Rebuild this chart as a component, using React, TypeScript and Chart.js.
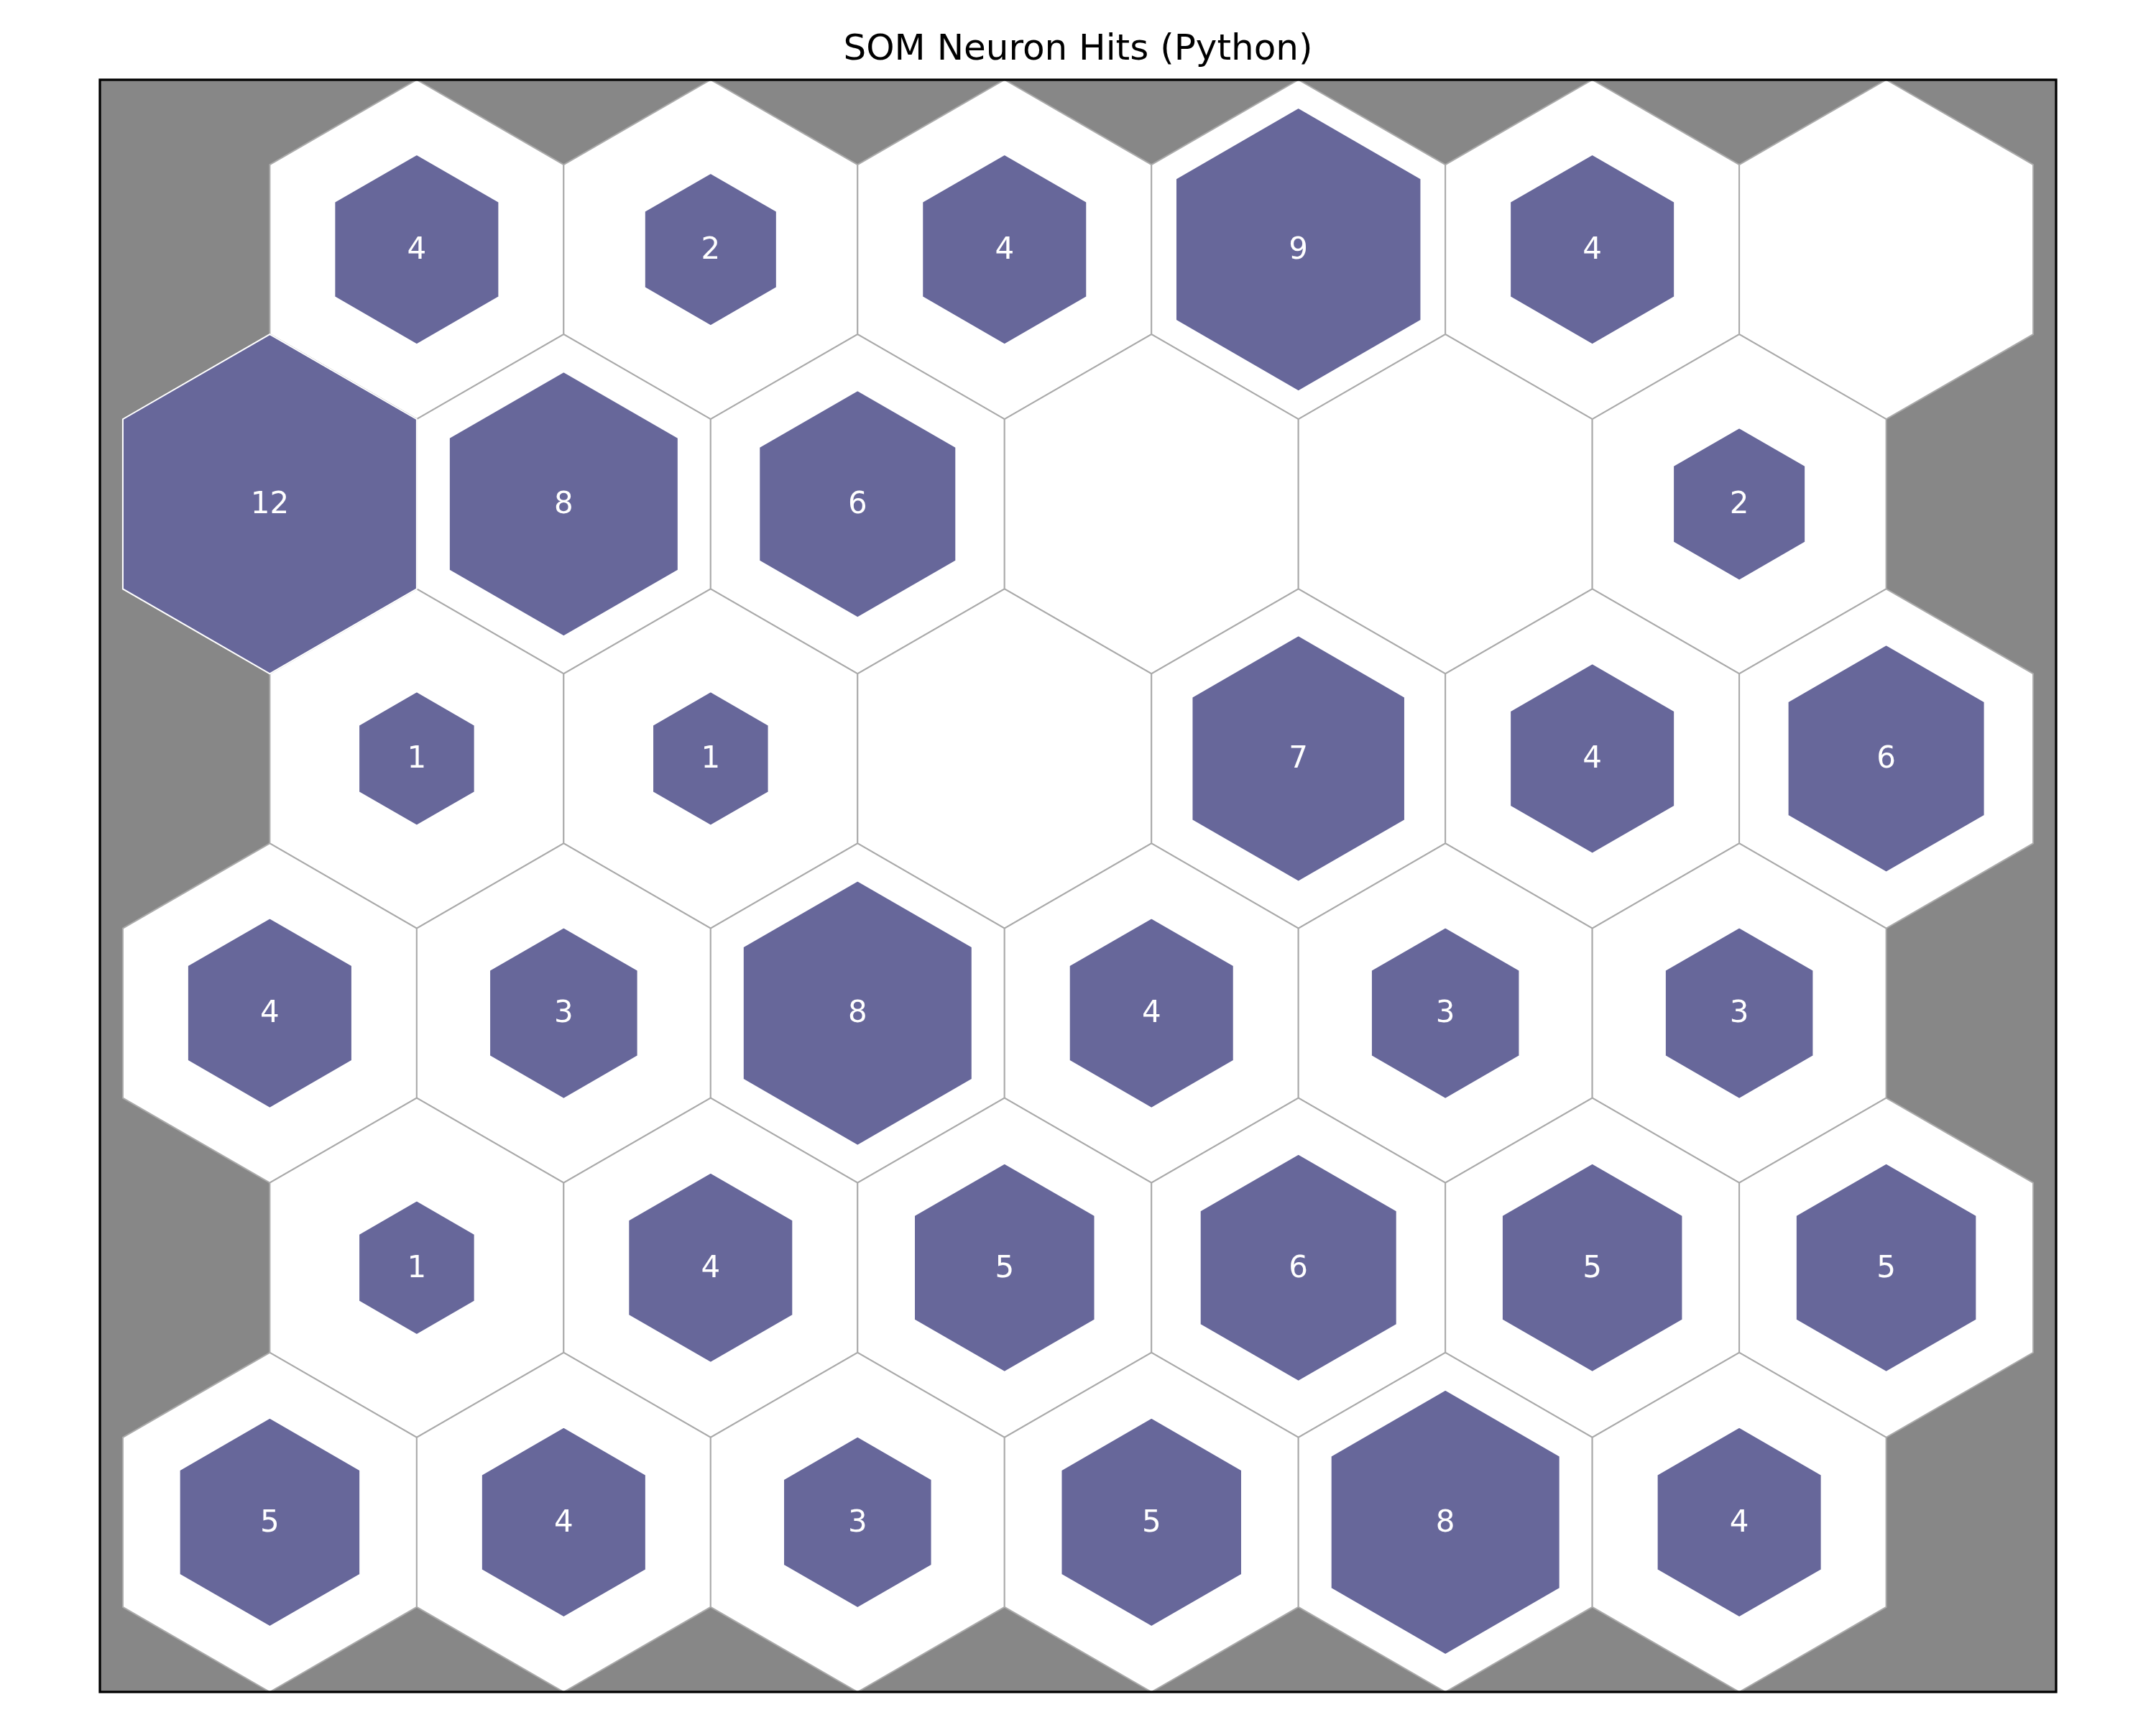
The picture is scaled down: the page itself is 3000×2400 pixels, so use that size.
import { useEffect, useRef } from 'react'
import { Chart, registerables } from 'chart.js'

Chart.register(...registerables)

const chartTitle = 'SOM Neuron Hits (Python)'

// neuron hit counts, one array per grid row, top row first (0 = no hits)
const hitsRow0 = [4, 2, 4, 9, 4, 0]
const hitsRow1 = [12, 8, 6, 0, 0, 2]
const hitsRow2 = [1, 1, 0, 7, 4, 6]
const hitsRow3 = [4, 3, 8, 4, 3, 3]
const hitsRow4 = [1, 4, 5, 6, 5, 5]
const hitsRow5 = [5, 4, 3, 5, 8, 4]
const hitRows = [hitsRow0, hitsRow1, hitsRow2, hitsRow3, hitsRow4, hitsRow5]

const W = 3000
const H = 2400
const PAD = { left: 139, right: 139, top: 0, bottom: 46 }
const TITLE_H = 111

const HEX_R = 1 / Math.sqrt(3)
const ROW_H = Math.sqrt(3) / 2
const nRows = hitRows.length

// hex grid positions: odd rows (counted from the bottom) shift half a cell
const cells = hitRows.flatMap((row, r) => {
  const k = nRows - 1 - r
  return row.map((hits, c) => ({ x: c + (k % 2) * 0.5, y: k * ROW_H, hits }))
})
const maxHits = Math.max(...cells.map((d) => d.hits))

const yMin = -HEX_R
const yMax = (nRows - 1) * ROW_H + HEX_R
const areaW = W - PAD.left - PAD.right
const areaH = H - TITLE_H - PAD.bottom
const xSpan = ((yMax - yMin) * areaW) / areaH
const xMid = (Math.min(...cells.map((d) => d.x)) + Math.max(...cells.map((d) => d.x))) / 2
const xMin = xMid - xSpan / 2
const xMax = xMid + xSpan / 2

function hexPath(ctx: CanvasRenderingContext2D, cx: number, cy: number, r: number) {
  ctx.beginPath()
  for (let i = 0; i < 6; i++) {
    const a = ((90 + 60 * i) * Math.PI) / 180
    const px = cx + r * Math.cos(a)
    const py = cy - r * Math.sin(a)
    if (i === 0) ctx.moveTo(px, py)
    else ctx.lineTo(px, py)
  }
  ctx.closePath()
}

export default function App() {
  const canvasRef = useRef<HTMLCanvasElement>(null)
  const chartRef = useRef<Chart | null>(null)

  useEffect(() => {
    if (!canvasRef.current) return
    if (chartRef.current) chartRef.current.destroy()

    chartRef.current = new Chart(canvasRef.current, {
      type: 'scatter',
      data: {
        datasets: [
          {
            label: 'hits',
            data: cells.map((d) => ({ x: d.x, y: d.y })),
            pointRadius: 0,
            pointHoverRadius: 0,
          },
        ],
      },
      options: {
        animation: false,
        responsive: true,
        maintainAspectRatio: false,
        devicePixelRatio: 1,
        layout: { padding: PAD },
        events: [],
        plugins: {
          legend: { display: false },
          tooltip: { enabled: false },
          title: {
            display: true,
            text: chartTitle,
            color: '#000000',
            font: { family: '"DejaVu Sans"', size: 50, weight: 'normal', lineHeight: 1.2 },
            padding: { top: 40, bottom: 11 },
          },
        },
        scales: {
          x: { type: 'linear', min: xMin, max: xMax, display: false },
          y: { type: 'linear', min: yMin, max: yMax, display: false },
        },
      },
      plugins: [
        {
          id: 'hexHits',
          afterDatasetsDraw: (chart) => {
            const ctx = chart.ctx
            const area = chart.chartArea
            const xs = chart.scales.x
            const unit = xs.getPixelForValue(1) - xs.getPixelForValue(0)
            const rPx = HEX_R * unit
            const meta = chart.getDatasetMeta(0)

            ctx.save()
            ctx.beginPath()
            ctx.rect(area.left, area.top, area.right - area.left, area.bottom - area.top)
            ctx.clip()
            ctx.fillStyle = '#878787'
            ctx.fillRect(area.left, area.top, area.right - area.left, area.bottom - area.top)

            // outer cells
            meta.data.forEach((pt) => {
              hexPath(ctx, pt.x, pt.y, rPx)
              ctx.fillStyle = '#ffffff'
              ctx.fill()
              ctx.strokeStyle = '#aaaaaa'
              ctx.lineWidth = 2
              ctx.stroke()
            })

            // inner hexes sized by hit count
            meta.data.forEach((pt, i) => {
              const h = cells[i].hits
              if (h <= 0) return
              const s = 0.34 + (0.66 * h) / maxHits
              hexPath(ctx, pt.x, pt.y, rPx * s)
              ctx.fillStyle = '#67679a'
              ctx.fill()
              ctx.strokeStyle = '#ffffff'
              ctx.lineWidth = 2
              ctx.stroke()
            })

            ctx.fillStyle = '#ffffff'
            ctx.font = '42px "DejaVu Sans"'
            ctx.textAlign = 'center'
            ctx.textBaseline = 'middle'
            meta.data.forEach((pt, i) => {
              const h = cells[i].hits
              if (h <= 0) return
              ctx.fillText(String(h), pt.x, pt.y + 2)
            })
            ctx.restore()

            ctx.save()
            ctx.strokeStyle = '#000000'
            ctx.lineWidth = 3.3
            ctx.strokeRect(area.left, area.top, area.right - area.left, area.bottom - area.top)
            ctx.restore()
          },
        },
      ],
    })

    return () => {
      if (chartRef.current) {
        chartRef.current.destroy()
        chartRef.current = null
      }
    }
  }, [])

  return (
    <div style={{ position: 'absolute', left: 0, top: 0, width: W, height: H, background: '#ffffff' }}>
      <canvas ref={canvasRef} />
    </div>
  )
}
